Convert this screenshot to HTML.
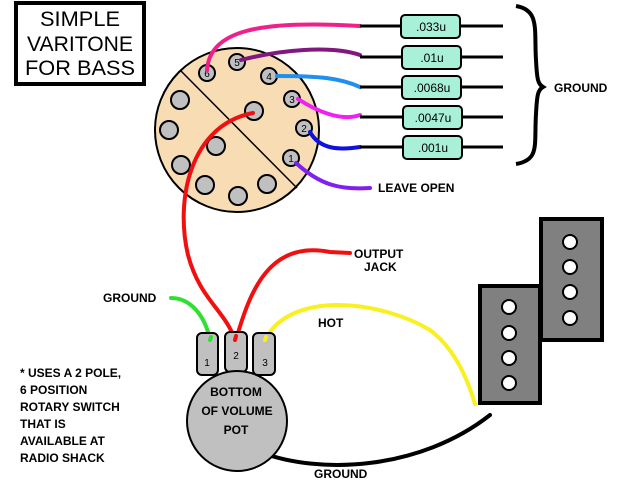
<!DOCTYPE html>
<html><head><style>body{margin:0;background:#fff}svg{display:block}</style></head><body>
<svg width="640" height="480" viewBox="0 0 640 480" font-family="Liberation Sans, sans-serif">
<rect x="16" y="3" width="128" height="81" fill="#fff" stroke="#000" stroke-width="4"/>
<g font-weight="normal" font-size="21" text-anchor="middle" fill="#000">
<text x="80" y="26" textLength="80" lengthAdjust="spacingAndGlyphs">SIMPLE</text>
<text x="80" y="51" textLength="106" lengthAdjust="spacingAndGlyphs">VARITONE</text>
<text x="80" y="75" textLength="110" lengthAdjust="spacingAndGlyphs">FOR BASS</text>
</g>
<circle cx="237" cy="130" r="82" fill="#f8dcb4" stroke="#000" stroke-width="2"/>
<line x1="180" y1="70" x2="297" y2="188" stroke="#000" stroke-width="1.5"/>
<g fill="#c0c0c0" stroke="#000" stroke-width="2">
<circle cx="180" cy="100" r="9"/><circle cx="169" cy="130" r="9"/><circle cx="181" cy="165" r="9"/>
<circle cx="216" cy="146" r="9"/><circle cx="205" cy="185" r="9"/><circle cx="238" cy="196" r="9"/>
<circle cx="267" cy="184" r="9"/><circle cx="254" cy="111" r="9"/>
<circle cx="207" cy="73" r="8"/><circle cx="237" cy="62" r="8"/><circle cx="269" cy="76" r="8"/>
<circle cx="292" cy="99" r="8"/><circle cx="304" cy="128" r="8"/><circle cx="291" cy="158" r="8"/>
</g>
<g font-size="10" text-anchor="middle" fill="#000" font-weight="normal">
<text x="207" y="77">6</text><text x="237" y="66">5</text><text x="269" y="80">4</text>
<text x="292" y="103">3</text><text x="304" y="132">2</text><text x="291" y="162">1</text>
</g>
<g fill="none" stroke-width="4" stroke-linecap="round">
<path d="M207 70 C210 30 260 20 360 26" stroke="#f0208a"/>
<path d="M241 60 C280 50 330 45 360 55" stroke="#801880"/>
<path d="M277 76 C320 76 340 78 360 87" stroke="#2090f0"/>
<path d="M298 99 C315 110 340 122 360 115" stroke="#f020f0"/>
<path d="M310 132 C320 150 340 150 360 147" stroke="#1010e0"/>
<path d="M296 163 C320 185 340 190 370 188" stroke="#8020f0"/>
<path d="M253 113 C190 125 175 200 188 255 C200 300 225 310 235 340" stroke="#f01010"/>
<path d="M236 340 C250 290 270 240 330 252 L350 253" stroke="#f01010"/>
<path d="M171 298 C190 298 205 315 210 340" stroke="#30e030"/>
<path d="M265 340 C290 290 380 300 430 330 C450 345 465 370 475 404" stroke="#f8f020"/>
<path d="M260 452 C320 475 420 470 490 415" stroke="#000"/>
</g>
<g stroke="#000" stroke-width="3">
<line x1="360" y1="26" x2="503" y2="26"/><line x1="360" y1="57" x2="503" y2="57"/>
<line x1="360" y1="87" x2="503" y2="87"/><line x1="360" y1="117" x2="503" y2="117"/>
<line x1="360" y1="147" x2="503" y2="147"/>
</g>
<g fill="#a8f0d8" stroke="#000" stroke-width="2">
<rect x="401" y="15" width="59" height="23" rx="4"/><rect x="402" y="46" width="59" height="23" rx="4"/>
<rect x="402" y="76" width="59" height="23" rx="4"/><rect x="403" y="106" width="59" height="23" rx="4"/>
<rect x="403" y="136" width="59" height="23" rx="4"/>
</g>
<g font-size="12" text-anchor="middle" fill="#000" font-weight="normal">
<text x="431" y="31">.033u</text><text x="432" y="62">.01u</text><text x="432" y="92">.0068u</text>
<text x="433" y="122">.0047u</text><text x="433" y="152">.001u</text>
</g>
<path d="M516 6 C540 10 534 30 536 60 C537 80 538 84 543 87 C538 90 537 94 536 114 C534 145 540 160 516 164" fill="none" stroke="#000" stroke-width="4"/>
<g font-size="12" fill="#000" font-weight="bold">
<text x="554" y="92">GROUND</text>
<text x="378" y="192">LEAVE OPEN</text>
<text x="354" y="258">OUTPUT</text><text x="364" y="271">JACK</text>
<text x="103" y="302">GROUND</text>
<text x="318" y="327">HOT</text>
<text x="314" y="478">GROUND</text>
<text x="20" y="377">* USES A 2 POLE,</text><text x="20" y="394">6 POSITION</text>
<text x="20" y="411">ROTARY SWITCH</text><text x="20" y="428">THAT IS</text>
<text x="20" y="445">AVAILABLE AT</text><text x="20" y="462">RADIO SHACK</text>
</g>
<g fill="#c0c0c0" stroke="#000" stroke-width="2">
<rect x="197" y="333" width="21" height="42" rx="5"/><rect x="225" y="332" width="22" height="40" rx="5"/><rect x="253" y="333" width="22" height="42" rx="5"/>
<circle cx="237" cy="421" r="50"/>
</g>
<g stroke-width="4" fill="none" stroke-linecap="round">
<path d="M210 340 L211 337" stroke="#30e030"/><path d="M265 340 L266 337" stroke="#f8f020"/><path d="M235 340 L236 336" stroke="#f01010"/>
</g>
<g font-size="10" text-anchor="middle" fill="#000" font-weight="normal">
<text x="207" y="366">1</text><text x="236" y="359">2</text><text x="265" y="366">3</text>
</g>
<g font-size="12" text-anchor="middle" fill="#000" font-weight="bold">
<text x="236" y="396">BOTTOM</text><text x="237" y="415">OF VOLUME</text><text x="236" y="434">POT</text>
</g>
<g fill="#808080" stroke="#000" stroke-width="4">
<rect x="541" y="219" width="61" height="121"/>
<rect x="480" y="286" width="60" height="117"/>
</g>
<g fill="#fff" stroke="#000" stroke-width="2">
<circle cx="570" cy="242" r="7"/><circle cx="570" cy="267" r="7"/><circle cx="570" cy="292" r="7"/><circle cx="570" cy="318" r="7"/>
<circle cx="509" cy="307" r="7"/><circle cx="509" cy="333" r="7"/><circle cx="509" cy="358" r="7"/><circle cx="509" cy="383" r="7"/>
</g>
</svg>
</body></html>
